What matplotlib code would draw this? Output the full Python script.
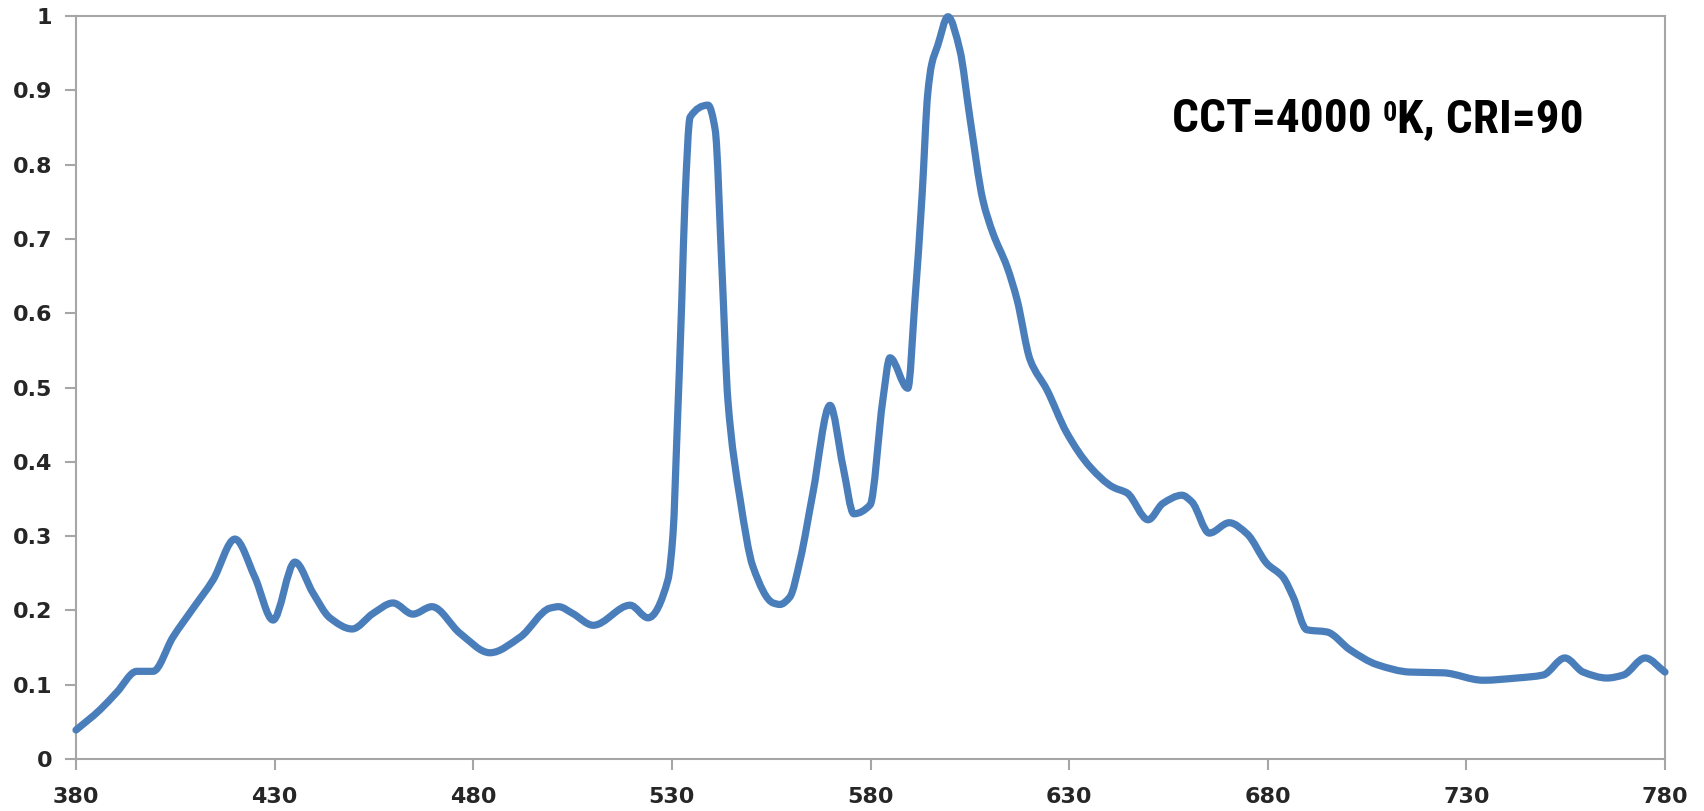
import numpy as np
import matplotlib
matplotlib.use("Agg")
import matplotlib.pyplot as plt
from matplotlib.path import Path
from matplotlib.patches import PathPatch
from matplotlib import font_manager as fm

# Relative spectral power of a 4000 K, CRI 90 white LED
wavelength_nm = [
    380, 386, 390.3, 395.3, 399.4, 404.4, 409.5, 414.5, 420, 425, 429.6,
    435.1, 439.7, 443.9, 449.5, 454.8, 459.8, 464.8, 469.6, 476.7, 484.2,
    491.8, 499.3, 501.5, 505, 510.2, 519.5, 524, 529, 530.3, 531.3, 532.5,
    533.3, 534.6, 539.1, 540.9, 542.6, 544.1, 547.2, 550.4, 555.5, 557.2,
    559.7, 562.3, 565.5, 569.8, 573.1, 575.8, 579.9, 583.1, 584.9, 589.4,
    591.2, 593, 594.4, 595.4, 596.9, 599.5, 602.5, 605, 608.3, 610.8, 614.4,
    616.9, 620.2, 624.4, 629.4, 635.3, 641, 644.6, 649.9, 653.6, 658.4,
    660.9, 665.3, 670.3, 674.8, 679.8, 683.8, 686.4, 689.8, 694.9, 700.7,
    707.5, 715.8, 724.2, 734.2, 742.7, 749.3, 754.8, 759.4, 765.4, 769.5,
    775, 780,
]
relative_power = [
    0.039, 0.066, 0.090, 0.118, 0.118, 0.164, 0.203, 0.241, 0.296, 0.245, 0.187,
    0.265, 0.223, 0.190, 0.175, 0.196, 0.210, 0.195, 0.205, 0.169, 0.143,
    0.164, 0.203, 0.205, 0.196, 0.180, 0.207, 0.190, 0.241, 0.304, 0.439, 0.618,
    0.752, 0.864, 0.880, 0.847, 0.660, 0.483, 0.349, 0.259, 0.210, 0.208,
    0.218, 0.268, 0.358, 0.476, 0.393, 0.330, 0.342, 0.483, 0.540, 0.499,
    0.618, 0.760, 0.895, 0.935, 0.960, 0.999, 0.954, 0.864, 0.752, 0.708, 0.662,
    0.618, 0.537, 0.497, 0.439, 0.393, 0.366, 0.358, 0.322, 0.344, 0.355,
    0.346, 0.304, 0.318, 0.303, 0.263, 0.245, 0.218, 0.174, 0.171, 0.147,
    0.127, 0.117, 0.116, 0.106, 0.109, 0.113, 0.136, 0.117, 0.109, 0.113,
    0.136, 0.117,
]

x_ticks = [380, 430, 480, 530, 580, 630, 680, 730, 780]
y_ticks = [0, 0.1, 0.2, 0.3, 0.4, 0.5, 0.6, 0.7, 0.8, 0.9, 1]
y_tick_labels = ["0", "0.1", "0.2", "0.3", "0.4", "0.5", "0.6", "0.7", "0.8", "0.9", "1"]

LINE_COLOR = "#4a7ebb"
AXIS_COLOR = "#a6a6a6"
LABEL_COLOR = "#262626"


def smooth_path(x, y):
    """Cubic Bezier path through the points, using monotone (Fritsch-Carlson) tangents."""
    x = np.asarray(x, float)
    y = np.asarray(y, float)
    h = np.diff(x)
    d = np.diff(y) / h
    n = len(x)
    m = np.zeros(n)
    m[0], m[-1] = d[0], d[-1]
    for k in range(1, n - 1):
        if d[k - 1] * d[k] <= 0:
            m[k] = 0.0
        else:
            w1 = 2 * h[k] + h[k - 1]
            w2 = h[k] + 2 * h[k - 1]
            m[k] = (w1 + w2) / (w1 / d[k - 1] + w2 / d[k])
    verts = [(x[0], y[0])]
    codes = [Path.MOVETO]
    for k in range(n - 1):
        t = h[k] / 3.0
        verts += [(x[k] + t, y[k] + m[k] * t),
                  (x[k + 1] - t, y[k + 1] - m[k + 1] * t),
                  (x[k + 1], y[k + 1])]
        codes += [Path.CURVE4] * 3
    return Path(verts, codes)


def condensed_bold_font():
    """Pick the narrowest heavy face that is installed."""
    entries = fm.fontManager.ttflist
    for name in ["Liberation Sans Narrow", "Roboto Condensed", "Open Sans Condensed",
                 "DejaVu Sans Condensed", "Noto Sans Condensed"]:
        if any(f.name == name for f in entries):
            return dict(family=[name, "DejaVu Sans"], fontweight=900)
    for f in entries:
        if f.name in ("DejaVu Sans", "Noto Sans", "Open Sans", "Roboto") and \
                str(f.stretch) in ("condensed", "semi-condensed") and \
                (f.weight == "bold" or f.weight == 700):
            return dict(family=[f.name], fontweight="bold", fontstretch="condensed")
    return dict(family=["Liberation Sans", "DejaVu Sans"], fontweight="bold")


fig = plt.figure(figsize=(17.04, 8.11), dpi=100)
ax = fig.add_axes([76 / 1704, 52 / 811, 1589 / 1704, 743 / 811])

patch = PathPatch(smooth_path(wavelength_nm, relative_power), facecolor="none",
                  edgecolor=LINE_COLOR, linewidth=5.2, joinstyle="round",
                  capstyle="round", clip_on=False, zorder=3)
ax.add_patch(patch)

ax.set_xlim(380, 780)
ax.set_ylim(0, 1)
ax.set_xticks(x_ticks)
ax.set_yticks(y_ticks)
ax.set_yticklabels(y_tick_labels)

for spine in ax.spines.values():
    spine.set_color(AXIS_COLOR)
    spine.set_linewidth(1.5)

ax.tick_params(axis="both", which="major", direction="out", length=8, width=1.5,
               color=AXIS_COLOR, labelsize=16, labelcolor=LABEL_COLOR)
ax.tick_params(axis="y", pad=9)
ax.tick_params(axis="x", pad=12)
for lbl in ax.get_xticklabels() + ax.get_yticklabels():
    lbl.set_fontweight("bold")
    lbl.set_family("DejaVu Sans")

# Annotation: CCT=4000 ⁰K, CRI=90
title_font = condensed_bold_font()
big, small = 42.0, 25.0
t1 = ax.text(0.690, 0.844, "CCT=4000 ", transform=ax.transAxes, fontsize=big,
             ha="left", va="baseline", color="black", **title_font)
t2 = ax.annotate("0", xy=(1.0, 0.92), xycoords=t1, ha="left", va="top",
                 fontsize=small, color="black", **title_font)
t3 = ax.annotate("K, CRI=90", xy=(1.0, 0.0), xycoords=(t2, t1), ha="left",
                 va="bottom", fontsize=big, color="black", **title_font)

# Fit the annotation to its intended width (about 412 px)
fig.canvas.draw()
renderer = fig.canvas.get_renderer()
left = t1.get_window_extent(renderer).x0
right = t3.get_window_extent(renderer).x1
scale = min(1.0, 412.0 / (right - left))
t1.set_fontsize(big * scale)
t2.set_fontsize(small * scale)
t3.set_fontsize(big * scale)

fig.savefig("out.png", dpi=100, facecolor="white")
